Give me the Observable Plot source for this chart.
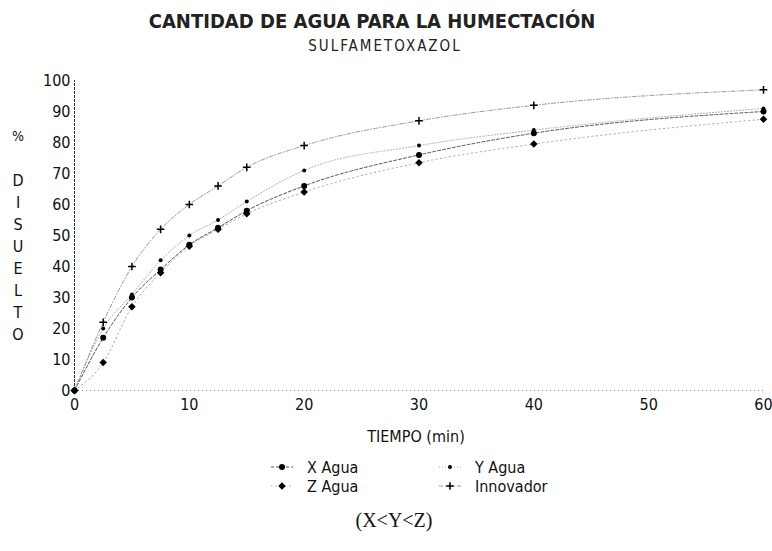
<!DOCTYPE html>
<html>
<head>
<meta charset="utf-8">
<script src="https://cdn.jsdelivr.net/npm/d3@7"></script>
<script src="https://cdn.jsdelivr.net/npm/@observablehq/plot@0.6"></script>
<style>
  html, body { margin: 0; padding: 0; background: #fff; }
  #chart { width: 772px; height: 551px; }
</style>
</head>
<body>
<div id="chart"></div>
<script>
// Dissolution profiles (% disuelto vs. tiempo) for sulfametoxazol
const tiempo = [0, 2.5, 5, 7.5, 10, 12.5, 15, 20, 30, 40, 60];
const xAgua = [0, 17, 30, 39, 47, 52.5, 58, 66, 76, 83, 90];
const yAgua = [0, 20, 31, 42, 50, 55, 61, 71, 79, 84, 91];
const zAgua = [0, 9, 27, 38, 46.5, 52, 57, 64, 73.5, 79.5, 87.5];
const innovador = [0, 22, 40, 52, 60, 66, 72, 79, 87, 92, 97];

const xTicks = [0, 10, 20, 30, 40, 50, 60];
const yTicks = [0, 10, 20, 30, 40, 50, 60, 70, 80, 90, 100];

const seriesNames = ["X Agua", "Y Agua", "Z Agua", "Innovador"];
const seriesValues = [xAgua, yAgua, zAgua, innovador];

const FONT = "'DejaVu Sans Condensed', 'Liberation Sans Narrow', 'Arial Narrow', sans-serif";

// Per-series drawing style: line dash, line tone, marker (diamond = square turned 45°)
const styles = {
  "X Agua":    {stroke: "#555", dash: "3,2",     symbol: "circle", rotate: 0,  r: 3.0, fill: "#000"},
  "Y Agua":    {stroke: "#aaa", dash: "1,2",     symbol: "circle", rotate: 0,  r: 2.0, fill: "#000"},
  "Z Agua":    {stroke: "#aaa", dash: "1.5,3",   symbol: "square", rotate: 45, r: 3.0, fill: "#000"},
  "Innovador": {stroke: "#999", dash: "4,2,1,2", symbol: "plus",   rotate: 0,  r: 2.6, fill: "none"}
};

const rows = seriesNames.flatMap((name, i) =>
  tiempo.map((t, j) => ({serie: name, t, v: seriesValues[i][j]}))
);

const lineMarks = seriesNames.map(name => Plot.line(rows.filter(d => d.serie === name), {
  x: "t", y: "v", curve: "monotone-x",
  stroke: styles[name].stroke, strokeWidth: 1, strokeDasharray: styles[name].dash
}));

const dotMarks = seriesNames.map(name => {
  const s = styles[name];
  return Plot.dot(rows.filter(d => d.serie === name), {
    x: "t", y: "v", symbol: () => s.symbol, r: s.r, rotate: s.rotate,
    fill: s.fill, stroke: s.fill === "none" ? "#000" : "none", strokeWidth: 1.5
  });
});

const chart = Plot.plot({
  width: 772,
  height: 551,
  marginLeft: 74,
  marginRight: 9,
  marginTop: 80,
  marginBottom: 161,
  style: {fontFamily: FONT, fontSize: "16px", color: "#111", background: "#fff"},
  x: {domain: [0, 60], ticks: xTicks},
  y: {domain: [0, 100], ticks: yTicks},
  symbol: {type: "identity"},
  marks: [
    Plot.ruleY([0], {stroke: "#888", strokeDasharray: "1,3"}),
    Plot.ruleX([0], {y1: 0, y2: 100, stroke: "#333", strokeDasharray: "3,1"}),
    Plot.axisX({ticks: xTicks, tickSize: 0, tickPadding: 8, label: null, fontSize: 16}),
    Plot.axisY({ticks: yTicks, tickSize: 0, tickPadding: 4, label: null, fontSize: 16}),
    ...lineMarks,
    ...dotMarks
  ]
});

document.getElementById("chart").appendChild(chart);

// Titles, vertical axis caption, legend and note
const svg = d3.select(chart);

svg.append("text")
  .attr("x", 372).attr("y", 28)
  .attr("text-anchor", "middle")
  .style("font-family", FONT).style("font-size", "20px").style("font-weight", "bold")
  .attr("fill", "#222")
  .text("CANTIDAD DE AGUA PARA LA HUMECTACIÓN");

svg.append("text")
  .attr("x", 385).attr("y", 51)
  .attr("text-anchor", "middle")
  .style("font-family", FONT).style("font-size", "15px").style("letter-spacing", "2px")
  .attr("fill", "#222")
  .text("SULFAMETOXAZOL");

const vertical = ["%", "D", "I", "S", "U", "E", "L", "T", "O"];
const vy = [141, 186, 208, 230, 252, 274, 296, 318, 340];
vertical.forEach((ch, i) => {
  svg.append("text")
    .attr("x", 18).attr("y", vy[i])
    .attr("text-anchor", "middle")
    .style("font-family", FONT).style("font-size", ch === "%" ? "14px" : "16px")
    .attr("fill", "#111")
    .text(ch);
});

svg.append("text")
  .attr("x", 416).attr("y", 442)
  .attr("text-anchor", "middle")
  .style("font-family", FONT).style("font-size", "16px")
  .attr("fill", "#111")
  .text("TIEMPO (min)");

const symbolTypes = {circle: d3.symbolCircle, square: d3.symbolSquare, plus: d3.symbolPlus};
const legendPos = {
  "X Agua":    [282, 467],
  "Y Agua":    [450, 467],
  "Z Agua":    [282, 486],
  "Innovador": [450, 486]
};
seriesNames.forEach(name => {
  const s = styles[name];
  const [lx, ly] = legendPos[name];
  const g = svg.append("g");
  g.append("line")
    .attr("x1", lx - 11).attr("x2", lx + 11).attr("y1", ly).attr("y2", ly)
    .attr("stroke", s.stroke).attr("stroke-dasharray", s.dash);
  g.append("path")
    .attr("transform", `translate(${lx},${ly}) rotate(${s.rotate})`)
    .attr("d", d3.symbol(symbolTypes[s.symbol], s.r * s.r * Math.PI)())
    .attr("fill", s.fill)
    .attr("stroke", s.fill === "none" ? "#000" : "none")
    .attr("stroke-width", 1.5);
  g.append("text")
    .attr("x", lx + 25).attr("y", ly + 5.5)
    .attr("text-anchor", "start")
    .style("font-family", FONT).style("font-size", "16px")
    .attr("fill", "#111")
    .text(name);
});

svg.append("text")
  .attr("x", 394).attr("y", 527)
  .attr("text-anchor", "middle")
  .style("font-family", "'Liberation Serif', 'DejaVu Serif', serif").style("font-size", "20px")
  .attr("fill", "#111")
  .text("(X<Y<Z)");
</script>
</body>
</html>
